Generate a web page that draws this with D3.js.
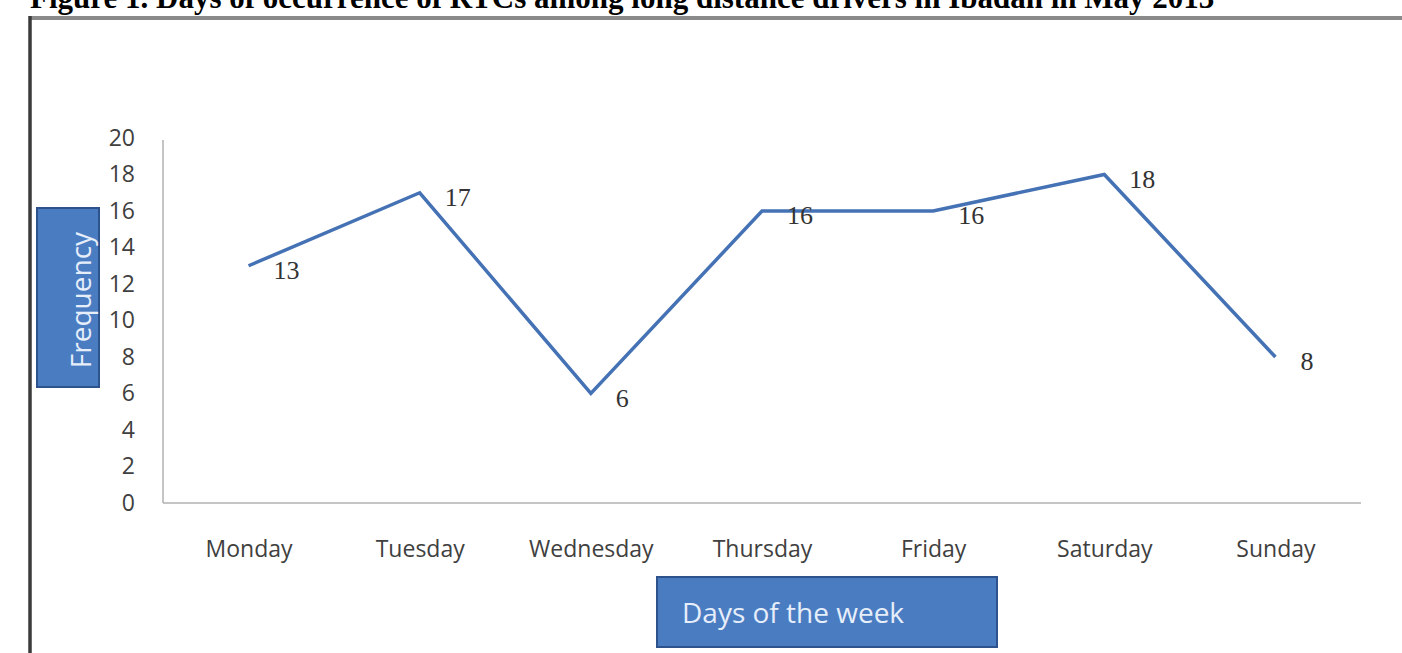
<!DOCTYPE html>
<html>
<head>
<meta charset="utf-8">
<script src="https://cdn.jsdelivr.net/npm/d3@7"></script>
<style>
  body { margin: 0; background: #fff; }
  svg { display: block; }
</style>
</head>
<body>
<script>
// Chart data
var days = ['Monday', 'Tuesday', 'Wednesday', 'Thursday', 'Friday', 'Saturday', 'Sunday'];
var frequency = [13, 17, 6, 16, 16, 18, 8];
var yTicks = [0, 2, 4, 6, 8, 10, 12, 14, 16, 18, 20];

var titleText = 'Figure 1. Days of occurrence of RTCs among long distance drivers in Ibadan in May 2013';
var yTitle = 'Frequency';
var xTitle = 'Days of the week';

var width = 1402, height = 653;
var plot = {left: 163, right: 1361, top: 138, bottom: 503};
var sans = 'Open Sans, Liberation Sans, sans-serif';
var serif = 'Liberation Serif, Times New Roman, serif';

var svg = d3.select('body').append('svg')
    .attr('width', width)
    .attr('height', height);

// Figure title (cut off at the top like the scan)
svg.append('text')
    .attr('x', 30)
    .attr('y', 8)
    .attr('font-family', serif)
    .attr('font-weight', 'bold')
    .attr('font-size', 31)
    .attr('fill', '#000')
    .text(titleText);

// Chart frame
svg.append('line')
    .attr('x1', 29).attr('x2', width)
    .attr('y1', 18).attr('y2', 18)
    .attr('stroke', '#8a8a8a').attr('stroke-width', 4);
svg.append('line')
    .attr('x1', 30).attr('x2', 30)
    .attr('y1', 16).attr('y2', height)
    .attr('stroke', '#3a3a3a').attr('stroke-width', 3.5);

// Scales
var x = d3.scalePoint()
    .domain(days)
    .range([plot.left, plot.right])
    .padding(0.5);

var y = d3.scaleLinear()
    .domain([0, 20])
    .range([plot.bottom, plot.top]);

// Y axis
var yAxis = svg.append('g')
    .attr('transform', 'translate(' + plot.left + ',0)')
    .call(d3.axisLeft(y).tickValues(yTicks).tickSize(0).tickPadding(28));
yAxis.select('.domain')
    .attr('stroke', '#b0b0b0').attr('stroke-width', 1.5)
    .attr('d', 'M0,' + (plot.top + 2) + 'V' + plot.bottom);
yAxis.selectAll('text')
    .attr('font-family', sans)
    .attr('font-size', 23)
    .attr('fill', '#404040');

// X axis
var xAxis = svg.append('g')
    .attr('transform', 'translate(0,' + plot.bottom + ')')
    .call(d3.axisBottom(x).tickSize(0).tickPadding(38));
xAxis.select('.domain')
    .attr('stroke', '#b0b0b0').attr('stroke-width', 1.5)
    .attr('d', 'M' + plot.left + ',0H' + plot.right);
xAxis.selectAll('text')
    .attr('font-family', sans)
    .attr('font-size', 23)
    .attr('fill', '#404040');

// Line
var line = d3.line()
    .x(function(d, i) { return x(days[i]); })
    .y(function(d) { return y(d); });

svg.append('path')
    .datum(frequency)
    .attr('d', line)
    .attr('fill', 'none')
    .attr('stroke', '#4472b4')
    .attr('stroke-width', 3.5)
    .attr('stroke-linejoin', 'miter');

// Data labels
svg.selectAll('.data-label')
    .data(frequency)
    .enter().append('text')
    .attr('class', 'data-label')
    .attr('x', function(d, i) { return x(days[i]) + 25; })
    .attr('y', function(d) { return y(d) + 13; })
    .attr('font-family', serif)
    .attr('font-size', 26)
    .attr('fill', '#333')
    .text(function(d) { return d; });

// Y axis title box
var yBox = svg.append('g');
yBox.append('rect')
    .attr('x', 37).attr('y', 208)
    .attr('width', 62).attr('height', 179)
    .attr('fill', '#4a7cc2')
    .attr('stroke', '#2d528c').attr('stroke-width', 2);
yBox.append('text')
    .attr('transform', 'translate(91,300) rotate(-90)')
    .attr('text-anchor', 'middle')
    .attr('font-family', sans)
    .attr('font-size', 28)
    .attr('fill', '#e6eefa')
    .text(yTitle);

// X axis title box
var xBox = svg.append('g');
xBox.append('rect')
    .attr('x', 657).attr('y', 577)
    .attr('width', 340).attr('height', 70)
    .attr('fill', '#4a7cc2')
    .attr('stroke', '#2d528c').attr('stroke-width', 2);
xBox.append('text')
    .attr('x', 682).attr('y', 623)
    .attr('font-family', sans)
    .attr('font-size', 28)
    .attr('fill', '#e6eefa')
    .text(xTitle);
</script>
</body>
</html>
